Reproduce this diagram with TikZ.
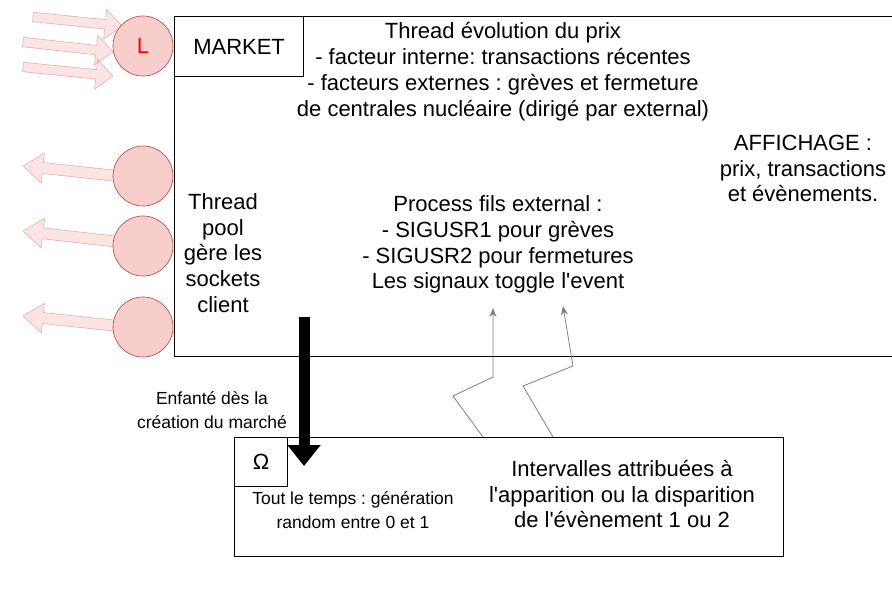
\documentclass[tikz,border=0pt]{standalone}
\usepackage{fontspec}
\setmainfont{Liberation Sans}[Ligatures=TeXOff]
\usetikzlibrary{arrows.meta,calc,backgrounds}
\frenchspacing

\definecolor{cellfill}{HTML}{F8CECC}
\definecolor{cellline}{HTML}{B85450}
\definecolor{siggray}{HTML}{808080}

\newcommand{\bigtxt}{\fontsize{22}{25.8}\selectfont}
\newcommand{\smalltxt}{\fontsize{17.5}{24.5}\selectfont}

% 空心粗箭头: 起点, 终点, 箭杆半宽, 箭头半宽, 箭头长度
\newcommand{\blockarrow}[5]{%
  \draw[pinkarrow] let \p1=($(#2)-(#1)$), \n1={atan2(\y1,\x1)}, \n2={veclen(\x1,\y1)} in
    [shift={(#1)}, rotate=\n1]
    (0pt,-#3pt) -- (\n2*1pt-#5pt,-#3pt) -- (\n2*1pt-#5pt,-#4pt) -- (\n2*1pt,0pt)
    -- (\n2*1pt-#5pt,#4pt) -- (\n2*1pt-#5pt,#3pt) -- (0pt,#3pt) -- cycle;
}

\begin{document}
\begin{tikzpicture}[x=1pt, y=-1pt,
    box/.style={draw, rectangle, line width=1.2pt, inner sep=0pt},
    socket/.style={circle, draw=cellline, fill=cellfill, line width=0.7pt, minimum size=60pt, inner sep=0pt},
    txt/.style={align=center, font=\bigtxt, inner sep=0pt},
    smalltxt/.style={align=center, font=\smalltxt, inner sep=0pt},
    pinkarrow/.style={draw=cellline, draw opacity=0.4, fill=cellfill, fill opacity=0.55, line width=0.6pt},
    sigarrow/.style={draw=siggray, line width=0.8pt, -{Stealth[length=9pt,width=7pt]}},
    spawnarrow/.style={line width=11pt, -{Triangle[length=21pt,width=32pt]}}]
    \useasboundingbox (0,0) rectangle (892,603);
    \clip (0,0) rectangle (892,603);

    % 市场进程
    \node[box, minimum width=740pt, minimum height=340pt, anchor=north west] (market) at (174,16) {};
    \node[box, minimum width=129pt, minimum height=60pt, anchor=north west, font=\bigtxt] (markettitle) at (174,16) {MARKET};

    % 套接字
    \node[socket, font=\bigtxt, text=red] (lsock) at (143,46) {L};
    \node[socket] (sock1) at (143,176) {};
    \node[socket] (sock2) at (143,246) {};
    \node[socket] (sock3) at (143,327) {};

    % 进出的连接
    \coordinate (in1) at (33,17);   \coordinate (in1tip) at (122,26);
    \coordinate (in2) at (23,42);   \coordinate (in2tip) at (113,52);
    \coordinate (in3) at (23,67);   \coordinate (in3tip) at (113,76);
    \coordinate (out1) at (128,177); \coordinate (out1tip) at (23,166);
    \coordinate (out2) at (128,243); \coordinate (out2tip) at (23,231);
    \coordinate (out3) at (128,327); \coordinate (out3tip) at (23,316);
    \begin{scope}[on background layer]
        \blockarrow{in1}{in1tip}{4.75}{15}{17}
        \blockarrow{in2}{in2tip}{4.75}{15}{17}
        \blockarrow{in3}{in3tip}{4.75}{15}{17}
        \blockarrow{out1}{out1tip}{5.5}{15}{20}
        \blockarrow{out2}{out2tip}{5.5}{15}{20}
        \blockarrow{out3}{out3tip}{5.5}{15}{20}
    \end{scope}

    % 文字
    \node[txt] (prixthread) at (503,71.5) {Thread évolution du prix\\- facteur interne: transactions récentes\\- facteurs externes : grèves et fermeture\\de centrales nucléaire (dirigé par external)};
    \node[txt] (affichage) at (803,168.5) {AFFICHAGE :\\prix, transactions\\et évènements.};
    \node[txt] (pool) at (223,253) {Thread\\pool\\gère les\\sockets\\client};
    \node[txt] (external) at (498,244.5) {Process fils external :\\- SIGUSR1 pour grèves\\- SIGUSR2 pour fermetures\\Les signaux toggle l'event};
    \node[smalltxt] (enfante) at (212,410) {Enfanté dès la\\création du marché};

    % 随机进程 Omega
    \node[box, line width=1pt, minimum width=549pt, minimum height=119pt, anchor=north west] (omega) at (234,437) {};
    \node[box, line width=1pt, minimum width=53pt, minimum height=49pt, anchor=north west, font=\bigtxt] (omegatag) at (234,437) {Ω};
    \node[smalltxt] (random) at (353,510) {Tout le temps : génération\\random entre 0 et 1};
    \node[txt] (intervalles) at (622,494) {Intervalles attribuées à\\l'apparition ou la disparition\\de l'évènement 1 ou 2};

    % 创建子进程
    \coordinate (spawn) at (304,317);
    \coordinate (spawntip) at (304,466);
    \draw[spawnarrow] (spawn) -- (spawntip);

    % 信号
    \coordinate (sig1) at ($(omega.north west)+(249,0)$);
    \coordinate (sig1tip) at (493,308);
    \coordinate (sig2) at ($(omega.north west)+(319,0)$);
    \coordinate (sig2tip) at (563,306);
    \draw[sigarrow] (sig1) -- (453,396) -- (493,377) -- (sig1tip);
    \draw[sigarrow] (sig2) -- (523,386) -- (573,366) -- (sig2tip);
\end{tikzpicture}
\end{document}
